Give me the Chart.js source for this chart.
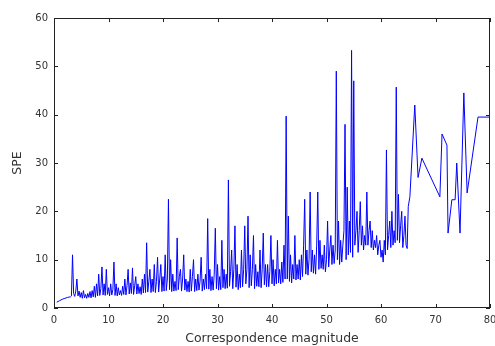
<!DOCTYPE html>
<html>
<head>
<meta charset="utf-8">
<script src="https://cdn.jsdelivr.net/npm/chart.js@4.4.0/dist/chart.umd.min.js"></script>
<style>
  body { margin: 0; background: #fff; }
  #wrap { width: 495px; height: 346px; }
</style>
</head>
<body>
<div id="wrap"><canvas id="spe-chart"></canvas></div>
<script>
// correspondence magnitude (x) and SPE (y)
const magnitude = [
  0.5, 1, 1.5, 2, 2.5, 3,
  3.2, 3.4, 3.6, 3.8, 4, 4.2, 4.4, 4.6, 4.8, 5,
  5.2, 5.4, 5.6, 5.8, 6, 6.2, 6.4, 6.6, 6.8, 7,
  7.2, 7.4, 7.6, 7.8, 8, 8.2, 8.4, 8.6, 8.8, 9,
  9.2, 9.4, 9.6, 9.8, 10, 10.2, 10.4, 10.6, 10.8, 11,
  11.2, 11.4, 11.6, 11.8, 12, 12.2, 12.4, 12.6, 12.8, 13,
  13.2, 13.4, 13.6, 13.8, 14, 14.2, 14.4, 14.6, 14.8, 15,
  15.2, 15.4, 15.6, 15.8, 16, 16.2, 16.4, 16.6, 16.8, 17,
  17.2, 17.4, 17.6, 17.8, 18, 18.2, 18.4, 18.6, 18.8, 19,
  19.2, 19.4, 19.6, 19.8, 20, 20.2, 20.4, 20.6, 20.8, 21,
  21.2, 21.4, 21.6, 21.8, 22, 22.2, 22.4, 22.6, 22.8, 23,
  23.2, 23.4, 23.6, 23.8, 24, 24.2, 24.4, 24.6, 24.8, 25,
  25.2, 25.4, 25.6, 25.8, 26, 26.2, 26.4, 26.6, 26.8, 27,
  27.2, 27.4, 27.6, 27.8, 28, 28.2, 28.4, 28.6, 28.8, 29,
  29.2, 29.4, 29.6, 29.8, 30, 30.2, 30.4, 30.6, 30.8, 31,
  31.2, 31.4, 31.6, 31.8, 32, 32.2, 32.4, 32.6, 32.8, 33,
  33.2, 33.4, 33.6, 33.8, 34, 34.2, 34.4, 34.6, 34.8, 35,
  35.2, 35.4, 35.6, 35.8, 36, 36.2, 36.4, 36.6, 36.8, 37,
  37.2, 37.4, 37.6, 37.8, 38, 38.2, 38.4, 38.6, 38.8, 39,
  39.2, 39.4, 39.6, 39.8, 40, 40.2, 40.4, 40.6, 40.8, 41,
  41.2, 41.4, 41.6, 41.8, 42, 42.2, 42.4, 42.6, 42.8, 43,
  43.2, 43.4, 43.6, 43.8, 44, 44.2, 44.4, 44.6, 44.8, 45,
  45.2, 45.4, 45.6, 45.8, 46, 46.2, 46.4, 46.6, 46.8, 47,
  47.2, 47.4, 47.6, 47.8, 48, 48.2, 48.4, 48.6, 48.8, 49,
  49.2, 49.4, 49.6, 49.8, 50, 50.2, 50.4, 50.6, 50.8, 51,
  51.2, 51.4, 51.6, 51.8, 52, 52.2, 52.4, 52.6, 52.8, 53,
  53.2, 53.4, 53.6, 53.8, 54, 54.2, 54.4, 54.6, 54.8, 55,
  55.2, 55.4, 55.6, 55.8, 56, 56.2, 56.4, 56.6, 56.8, 57,
  57.2, 57.4, 57.6, 57.8, 58, 58.2, 58.4, 58.6, 58.8, 59,
  59.2, 59.4, 59.6, 59.8, 60, 60.2, 60.4, 60.6, 60.8, 61,
  61.2, 61.4, 61.6, 61.8, 62, 62.2, 62.4, 62.6, 62.8, 63,
  63.2, 63.4, 63.6, 63.8, 64, 64.2, 64.4, 64.6, 64.8, 65,
  65.3, 66.2, 66.8, 67.5, 70.8, 71.2, 72.1, 72.3, 73, 73.6, 73.9, 74.5, 75.2, 75.8, 77.8, 80
];
const spe = [
  1.2, 1.5, 1.8, 2.0, 2.2, 2.3,
  2.5, 11, 3, 2.4, 3.5, 6, 2.5, 3.5, 2.2, 3.2,
  2.0, 3.6, 2.1, 2.8, 2.0, 3.0, 2.2, 3.4, 2.1, 3.6,
  2.3, 4.5, 2.2, 5, 2.5, 7, 2.6, 4, 8.5, 2.7,
  5, 2.6, 8, 2.8, 4.2, 2.5, 5, 2.7, 3.8, 9.5,
  2.6, 5, 2.5, 4.2, 2.7, 3.6, 2.6, 4.5, 2.8, 6,
  2.7, 4.6, 8, 2.9, 5.2, 3, 8.3, 2.8, 4.6, 6.5,
  2.9, 5, 3, 4.4, 2.8, 6, 3.1, 7, 3.2, 13.5,
  3.3, 5.5, 8, 3.2, 6, 3.4, 9, 3.2, 5.5, 10.5,
  3.3, 6, 9, 3.4, 6.5, 3.5, 11, 3.6, 6, 22.5,
  3.8, 10, 3.4, 7, 3.5, 5.5, 3.6, 14.5, 3.8, 6.5,
  8, 3.5, 6, 11, 3.7, 6, 3.4, 5.5, 3.3, 8,
  3.5, 6.5, 10, 3.4, 6, 3.6, 7, 3.7, 5.5, 10.5,
  3.5, 6, 3.8, 7, 4, 18.5, 3.9, 8, 3.6, 6.5,
  3.7, 7, 16.5, 4, 9, 3.7, 6.5, 3.8, 14, 4.2,
  8, 4, 7, 4.1, 26.5, 4.5, 7.5, 12, 4, 8,
  17, 4.3, 9, 3.8, 7, 4.2, 12, 4.4, 8, 17,
  5, 8, 19, 4.2, 11, 4.6, 8, 15, 4, 9,
  4.5, 7.5, 4.4, 12, 4.2, 8, 15.5, 4.8, 9, 4.4,
  9, 4.4, 7.5, 15, 5, 10, 4.6, 8, 5, 14,
  5.2, 8, 5, 9.5, 5.3, 13, 6, 39.7, 6, 19,
  5.5, 11, 5.2, 9, 6, 15, 5.8, 9, 6, 10,
  5.8, 11, 6.5, 13, 22.5, 7, 12, 6.8, 10, 24,
  7.5, 12, 7.2, 11, 7, 13, 24, 8, 14, 8.2,
  11, 8, 13, 7.5, 10, 18, 8.5, 12, 15, 9,
  13, 9.2, 12, 49, 10, 18, 9, 14, 9.5, 13,
  16, 38, 10, 25, 11, 18, 11.5, 53.3, 10.5, 47,
  13, 16, 20, 11.5, 16, 22, 13, 17, 12, 15,
  13, 24, 13, 16, 18, 12.5, 16, 12, 14, 12.5,
  15, 11, 13, 14, 10.5, 12, 9.5, 14, 11, 32.7,
  12, 15, 18, 12.5, 20, 13, 16, 13.5, 45.7, 14,
  23.5, 13.5, 17, 20, 12.5, 15, 19, 13, 12.3, 21,
  23, 42, 27, 31, 23, 36, 33.7, 15.5, 22.4, 22.4, 30, 15.5, 44.5, 23.8, 39.5, 39.5
];
const xTicks = [0, 10, 20, 30, 40, 50, 60, 70, 80];
const yTicks = [0, 10, 20, 30, 40, 50, 60];

const points = magnitude.map((m, i) => ({ x: m, y: spe[i] }));

// matplotlib style box with inward ticks on all four sides
const frame = {
  id: 'frame',
  afterDraw(chart) {
    const { ctx, chartArea: a, scales: { x, y } } = chart;
    ctx.save();
    ctx.strokeStyle = '#222';
    ctx.lineWidth = 1;
    ctx.strokeRect(a.left + 0.5, a.top + 0.5, a.right - a.left - 1, a.bottom - a.top - 1);
    ctx.beginPath();
    xTicks.forEach(v => {
      const px = Math.round(x.getPixelForValue(v)) + 0.5;
      ctx.moveTo(px, a.bottom); ctx.lineTo(px, a.bottom - 4);
      ctx.moveTo(px, a.top); ctx.lineTo(px, a.top + 4);
    });
    yTicks.forEach(v => {
      const py = Math.round(y.getPixelForValue(v)) + 0.5;
      ctx.moveTo(a.left, py); ctx.lineTo(a.left + 4, py);
      ctx.moveTo(a.right, py); ctx.lineTo(a.right - 4, py);
    });
    ctx.stroke();
    ctx.restore();
  }
};

const tickFont = { family: 'DejaVu Sans', size: 10 };
const titleFont = { family: 'DejaVu Sans', size: 12.5 };

new Chart(document.getElementById('spe-chart'), {
  type: 'line',
  data: {
    datasets: [{
      data: points,
      borderColor: 'rgb(0, 0, 255)',
      borderWidth: 1,
      pointRadius: 0,
      tension: 0,
      fill: false
    }]
  },
  options: {
    responsive: true,
    maintainAspectRatio: false,
    animation: false,
    layout: { padding: { top: 18, right: 5, left: 0, bottom: 0 } },
    plugins: { legend: { display: false }, tooltip: { enabled: false } },
    scales: {
      x: {
        type: 'linear',
        min: 0,
        max: 80,
        afterFit: s => { s.height = 38; s.paddingRight = 0; s.paddingLeft = 0; },
        grid: { display: false, drawTicks: false },
        border: { display: false },
        ticks: { stepSize: 10, padding: 6, color: '#333', font: tickFont },
        title: { display: true, text: 'Correspondence magnitude', color: '#333', font: titleFont, padding: { top: 2, bottom: 0 } }
      },
      y: {
        min: 0,
        max: 60,
        afterFit: s => { s.width = 54; },
        grid: { display: false, drawTicks: false },
        border: { display: false },
        ticks: { stepSize: 10, padding: 6, color: '#333', font: tickFont },
        title: { display: true, text: 'SPE', color: '#333', font: titleFont, padding: { top: 10, bottom: 0 } }
      }
    }
  },
  plugins: [frame]
});
</script>
</body>
</html>
